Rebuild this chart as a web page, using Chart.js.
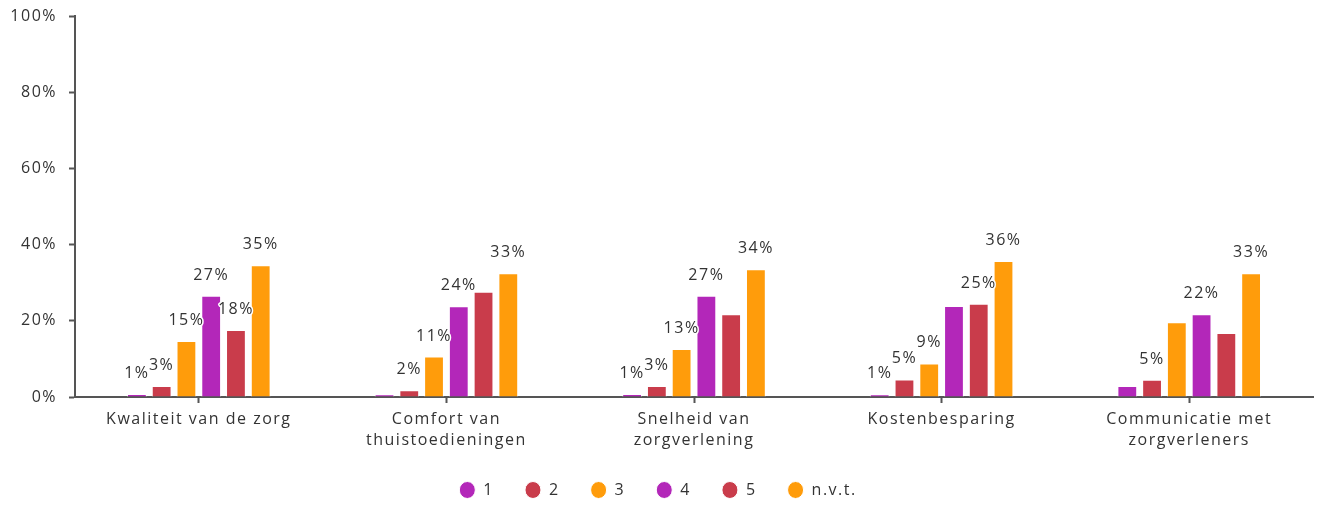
<!DOCTYPE html>
<html>
<head>
<meta charset="utf-8">
<script src="https://cdn.jsdelivr.net/npm/chart.js@4"></script>
<style>
  html, body { margin: 0; background: #fff; }
  #wrap { width: 1323px; height: 506px; position: relative; }
</style>
</head>
<body>
<div id="wrap"><canvas id="chart"></canvas></div>
<script>
"use strict";

const categories = [
  "Kwaliteit van de zorg",
  ["Comfort van", "thuistoedieningen"],
  ["Snelheid van", "zorgverlening"],
  "Kostenbesparing",
  ["Communicatie met", "zorgverleners"],
];
const seriesNames = ["1", "2", "3", "4", "5", "n.v.t."];

// percentages per category, one array per answer
const score1 = [0.8, 0.7, 0.8, 0.7, 2.9];
const score2 = [2.9, 1.8, 2.9, 4.6, 4.5];
const score3 = [14.7, 10.6, 12.6, 8.8, 19.6];
const score4 = [26.6, 23.8, 26.6, 23.9, 21.7];
const score5 = [17.6, 27.6, 21.7, 24.5, 16.8];
const scoreNvt = [34.6, 32.5, 33.5, 35.7, 32.5];

const yTicks = [0, 20, 40, 60, 80, 100];

// value labels the original left out (series-category)
const hiddenLabels = ["0-1", "4-1", "4-2", "3-3", "0-4", "2-4", "4-4"];

const purple = "#b327b9";
const red = "#c93c4b";
const orange = "#ff9c0b";
const colors = [purple, red, orange, purple, red, orange];
const allScores = [score1, score2, score3, score4, score5, scoreNvt];

const font = "'Open Sans', 'Noto Sans', sans-serif";
const spacing = "1.5px";

// canvas state gets reset on resize, so keep setting the letter spacing
function setSpacing(chart) {
  chart.ctx.letterSpacing = spacing;
}

const textSpacing = {
  id: "textSpacing",
  beforeUpdate: setSpacing,
  beforeLayout: setSpacing,
  beforeDraw: setSpacing,
  afterInit(chart) {
    // the legend needs wide gaps between items but not that much height
    const legend = chart.legend;
    const fit = legend.fit.bind(legend);
    legend.fit = function () {
      fit();
      this.height = 55;
    };
  },
};

const valueLabels = {
  id: "valueLabels",
  afterDatasetsDraw(chart) {
    const c = chart.ctx;
    c.save();
    c.letterSpacing = spacing;
    c.font = "16px " + font;
    c.textAlign = "center";
    c.textBaseline = "alphabetic";
    c.lineJoin = "round";
    chart.data.datasets.forEach((ds, i) => {
      chart.getDatasetMeta(i).data.forEach((bar, j) => {
        if (hiddenLabels.includes(i + "-" + j)) return;
        const txt = Math.round(ds.data[j]) + "%";
        c.strokeStyle = "#fff";
        c.lineWidth = 3;
        c.strokeText(txt, bar.x, bar.y - 16);
        c.fillStyle = "#333";
        c.fillText(txt, bar.x, bar.y - 16);
      });
    });
    c.restore();
  },
};

const ctx = document.getElementById("chart");

const myChart = new Chart(ctx, {
  type: "bar",
  data: {
    labels: categories,
    datasets: seriesNames.map((name, i) => ({
      label: name,
      data: allScores[i],
      backgroundColor: colors[i],
      borderColor: "#fff",
      borderWidth: 1,
      categoryPercentage: 0.6,
      barPercentage: 0.8,
    })),
  },
  options: {
    responsive: true,
    maintainAspectRatio: false,
    animation: false,
    layout: { padding: { top: 16, right: 10, bottom: 0, left: 3 } },
    plugins: {
      tooltip: { enabled: false },
      legend: {
        position: "bottom",
        labels: {
          usePointStyle: true,
          pointStyle: "circle",
          pointStyleWidth: 16,
          boxHeight: 12,
          padding: 31,
          color: "#333",
          font: { family: font, size: 16 },
        },
      },
    },
    scales: {
      x: {
        grid: {
          drawOnChartArea: false,
          offset: false,
          tickLength: 6,
          color: "#555",
          tickWidth: 2,
        },
        border: { color: "#555", width: 2 },
        ticks: {
          color: "#333",
          padding: 6,
          maxRotation: 0,
          font: { family: font, size: 16, lineHeight: 1.3 },
        },
        afterFit(scale) {
          scale.height = 54;
        },
      },
      y: {
        min: 0,
        max: 100,
        afterBuildTicks(scale) {
          scale.ticks = yTicks.map((v) => ({ value: v }));
        },
        grid: {
          drawOnChartArea: false,
          tickLength: 6,
          color: "#555",
          tickWidth: 2,
        },
        border: { color: "#555", width: 2 },
        ticks: {
          color: "#333",
          padding: 12,
          font: { family: font, size: 16 },
          callback: (v) => v + "%",
        },
        afterFit(scale) {
          scale.width = 72;
          scale.paddingTop = 0;
        },
      },
    },
  },
  plugins: [textSpacing, valueLabels],
});
</script>
</body>
</html>
